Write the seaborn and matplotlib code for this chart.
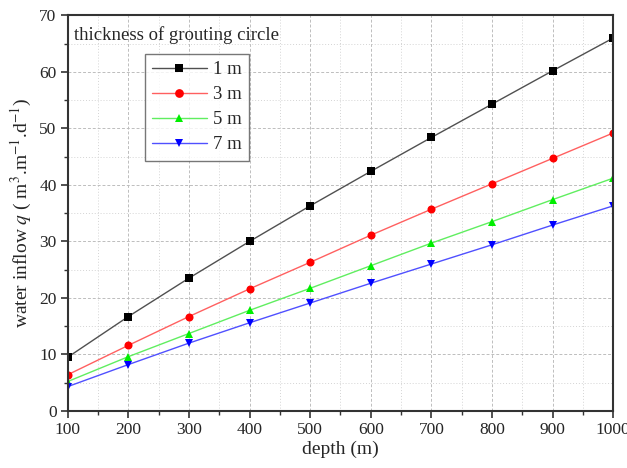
import matplotlib
matplotlib.use("Agg")
import matplotlib.pyplot as plt
import seaborn as sns
import pandas as pd
from matplotlib.ticker import MultipleLocator
from matplotlib.lines import Line2D

depth = [100, 200, 300, 400, 500, 600, 700, 800, 900, 1000]
q_1m = [9.5, 16.7, 23.5, 30.0, 36.3, 42.4, 48.4, 54.3, 60.2, 66.0]
q_3m = [6.4, 11.6, 16.7, 21.6, 26.3, 31.1, 35.7, 40.2, 44.7, 49.2]
q_5m = [5.2, 9.6, 13.7, 17.8, 21.7, 25.7, 29.7, 33.5, 37.4, 41.2]
q_7m = [4.3, 8.2, 12.0, 15.6, 19.1, 22.6, 26.0, 29.4, 32.9, 36.3]
labels = ["1 m", "3 m", "5 m", "7 m"]

df = pd.DataFrame({
    "depth": depth * 4,
    "q": q_1m + q_3m + q_5m + q_7m,
    "thickness": sum([[l] * len(depth) for l in labels], []),
})

sns.set_theme(style="white")
plt.rcParams["font.family"] = ["Liberation Serif", "DejaVu Serif"]
plt.rcParams["mathtext.fontset"] = "stix"

fig = plt.figure(figsize=(6.27, 4.68), dpi=100)
ax = fig.add_axes([0.108, 0.122, 0.870, 0.845])

marker_colors = {"1 m": "#000000", "3 m": "#ff0000", "5 m": "#00ee00", "7 m": "#0000ff"}
line_colors = {"1 m": "#505050", "3 m": "#ff6060", "5 m": "#60ee60", "7 m": "#5050ff"}
markers = {"1 m": "s", "3 m": "o", "5 m": "^", "7 m": "v"}
msize = 5.8
sns.lineplot(data=df, x="depth", y="q", hue="thickness", style="thickness",
             palette=line_colors, markers=markers, dashes=False, markersize=msize,
             linewidth=1.0, markeredgewidth=0, ax=ax, legend=False)
for line, lab in zip(ax.get_lines(), labels):
    line.set_markerfacecolor(marker_colors[lab])
    line.set_markeredgecolor(marker_colors[lab])

handles = []
for lab in labels:
    handles.append(Line2D([], [], color=line_colors[lab], marker=markers[lab], markersize=msize + 0.5,
                          markerfacecolor=marker_colors[lab], markeredgewidth=0,
                          linewidth=1.0, label=lab))

ax.set_xlim(100, 1000)
ax.set_ylim(0, 70)
ax.xaxis.set_major_locator(MultipleLocator(100))
ax.xaxis.set_minor_locator(MultipleLocator(50))
ax.yaxis.set_major_locator(MultipleLocator(10))
ax.yaxis.set_minor_locator(MultipleLocator(5))
ax.grid(True, which="major", color="#bdbdbd", linestyle=(0, (3, 2)), linewidth=0.7)
ax.grid(True, which="minor", color="#d4d4d4", linestyle=(0, (1, 2)), linewidth=0.7)
ax.set_axisbelow(True)
ax.tick_params(which="major", direction="out", length=5, width=1.2, labelsize=12.5,
               bottom=True, left=True, top=False, right=False, color="#333333", pad=3)
ax.tick_params(which="minor", direction="out", length=3, width=1.0,
               bottom=True, left=True, top=False, right=False, color="#333333")
for s in ax.spines.values():
    s.set_color("#333333")
    s.set_linewidth(1.5)

ax.set_xlabel("depth (m)", fontsize=14, labelpad=2)
ax.set_ylabel(r"water inflow $q$ ( m$^{3}$.m$^{-1}$.d$^{-1}$)", fontsize=14, labelpad=4)

ax.text(0.012, 0.972, "thickness of grouting circle", transform=ax.transAxes,
        fontsize=13.5, va="top", ha="left")
leg = ax.legend(handles=handles, loc="upper left", bbox_to_anchor=(0.141, 0.903),
                fontsize=13.5, frameon=True, fancybox=False, handlelength=2.9,
                borderpad=0.4, labelspacing=0.42, handletextpad=0.35,
                borderaxespad=0)
leg.get_frame().set_edgecolor("#555555")
leg.get_frame().set_linewidth(1.0)

fig.savefig("out.png", dpi=100)
